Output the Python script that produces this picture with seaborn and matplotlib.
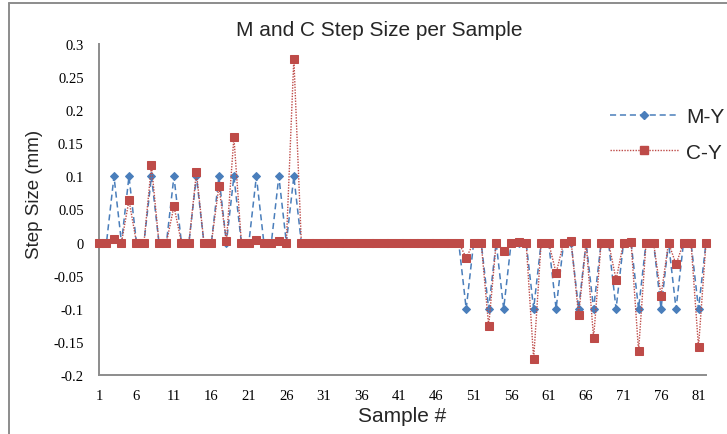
import matplotlib
matplotlib.use("Agg")
import matplotlib.pyplot as plt
from matplotlib.lines import Line2D
import seaborn as sns
import pandas as pd

samples = list(range(1, 83))

m_y = [0, 0, 0.1, 0, 0.1, 0, 0, 0.1, 0, 0,
       0.1, 0, 0, 0.1, 0, 0, 0.1, 0, 0.1, 0,
       0, 0.1, 0, 0, 0.1, 0, 0.1, 0, 0, 0,
       0, 0, 0, 0, 0, 0, 0, 0, 0, 0,
       0, 0, 0, 0, 0, 0, 0, 0, 0, -0.1,
       0, 0, -0.1, 0, -0.1, 0, 0, 0, -0.1, 0,
       0, -0.1, 0, 0, -0.1, 0, -0.1, 0, 0, -0.1,
       0, 0, -0.1, 0, 0, -0.1, 0, -0.1, 0, 0,
       -0.1, 0]

c_y = [0, 0, 0.005, 0, 0.064, 0, 0, 0.117, 0, 0,
       0.055, 0, 0, 0.106, 0, 0, 0.085, 0.002, 0.159, 0,
       0, 0.004, 0, 0, 0.003, 0, 0.278, 0, 0, 0,
       0, 0, 0, 0, 0, 0, 0, 0, 0, 0,
       0, 0, 0, 0, 0, 0, 0, 0, 0, -0.023,
       0, 0, -0.126, 0, -0.012, 0, 0.001, 0, -0.176, 0,
       0, -0.046, 0, 0.002, -0.110, 0, -0.144, 0, 0, -0.056,
       0, 0.001, -0.164, 0, 0, -0.080, 0, -0.033, 0, 0,
       -0.158, 0]

x_ticks = list(range(1, 82, 5))
y_ticks = [-0.2, -0.15, -0.1, -0.05, 0, 0.05, 0.1, 0.15, 0.2, 0.25, 0.3]
y_tick_labels = ["-0.2", "-0.15", "-0.1", "-0.05", "0", "0.05", "0.1", "0.15", "0.2", "0.25", "0.3"]

sns.set_theme(style="white")
plt.rcParams["font.family"] = ["Liberation Sans", "DejaVu Sans"]

blue = "#4A7EBB"
red = "#BE4B48"
grey = "#8C8C8C"

df = pd.DataFrame({"Sample": samples, "M-Y": m_y, "C-Y": c_y})

fig = plt.figure(figsize=(7.27, 4.35), dpi=100)
ax = fig.add_axes([99 / 727, 1 - 376 / 435, (706 - 99) / 727, (376 - 45) / 435])

sns.lineplot(data=df, x="Sample", y="M-Y", ax=ax, color=blue, linewidth=1.1,
             linestyle=(0, (4, 2.5)), marker="D", markersize=4.5,
             markeredgecolor=blue, clip_on=False, zorder=3)
sns.lineplot(data=df, x="Sample", y="C-Y", ax=ax, color=red, linewidth=1.0,
             linestyle=(0, (1, 1)), marker="s", markersize=5.5,
             markeredgecolor=red, clip_on=False, zorder=4)

ax.set_xlim(1, 82)
ax.set_ylim(-0.2, 0.3)
ax.set_xticks(x_ticks)
ax.set_xticklabels([str(t) for t in x_ticks], fontfamily="Liberation Serif", fontsize=10.5)
ax.set_yticks(y_ticks)
ax.set_yticklabels(y_tick_labels, fontfamily="Liberation Serif", fontsize=10.5)
ax.tick_params(axis="both", direction="out", length=5, width=1.2, color=grey,
               labelcolor="black", pad=6)
ax.tick_params(axis="x", pad=5)

for side in ("top", "right"):
    ax.spines[side].set_visible(False)
for side in ("left", "bottom"):
    ax.spines[side].set_color(grey)
    ax.spines[side].set_linewidth(1.4)

ax.set_xlabel("Sample #", fontsize=15, labelpad=3)
ax.set_ylabel("Step Size (mm)", fontsize=13.5)
ax.yaxis.set_label_coords(-0.092, 0.55)

fig.text(379 / 727, 1 - 31 / 435, "M and C Step Size per Sample",
         ha="center", va="center", fontsize=15)

handles = [
    Line2D([], [], color=blue, linewidth=1.1, linestyle=(0, (4, 2.5)),
           marker="D", markersize=4.5, markeredgecolor=blue),
    Line2D([], [], color=red, linewidth=1.0, linestyle=(0, (1, 1)),
           marker="s", markersize=5.5, markeredgecolor=red),
]
fig.legend(handles, ["M-Y", "C-Y"], loc="upper left",
           bbox_to_anchor=(610 / 727, 1 - 108 / 435), frameon=False,
           fontsize=15, handlelength=3.3, handletextpad=0.35,
           labelspacing=0.8, borderpad=0, borderaxespad=0)

# chart frame (left and top edges)
fig.add_artist(Line2D([9 / 727, 9 / 727], [0, 1 - 4 / 435], color=grey, linewidth=1.4))
fig.add_artist(Line2D([9 / 727, 1], [1 - 4 / 435, 1 - 4 / 435], color=grey, linewidth=1.4))

fig.savefig("out.png", dpi=100)
